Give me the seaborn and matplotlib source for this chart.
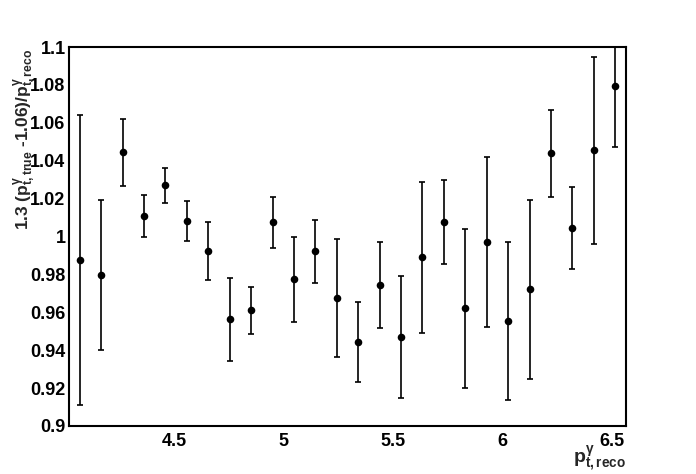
import numpy as np
import matplotlib
matplotlib.use("Agg")
import matplotlib.pyplot as plt
import seaborn as sns
import pandas as pd
from matplotlib.ticker import MultipleLocator

# ======================
# Data
# ======================

pt_reco = [4.066, 4.164, 4.262, 4.360, 4.458, 4.556, 4.654, 4.752, 4.850, 4.948,
           5.046, 5.144, 5.242, 5.340, 5.438, 5.536, 5.634, 5.732, 5.830, 5.928,
           6.026, 6.124, 6.222, 6.320, 6.418, 6.516]

ratio = [0.9874, 0.9797, 1.0444, 1.0108, 1.0270, 1.0082, 0.9922, 0.9563, 0.9610, 1.0075,
         0.9774, 0.9922, 0.9674, 0.9442, 0.9742, 0.9468, 0.9890, 1.0075, 0.9621, 0.9969,
         0.9553, 0.9721, 1.0439, 1.0043, 1.0455, 1.0793]

ratio_err = [0.0765, 0.0395, 0.0177, 0.0113, 0.0094, 0.0108, 0.0153, 0.0218, 0.0122, 0.0134,
             0.0224, 0.0167, 0.0312, 0.0211, 0.0227, 0.0322, 0.0399, 0.0221, 0.0418, 0.0449,
             0.0417, 0.0474, 0.0229, 0.0217, 0.0494, 0.0323]

y_ticks = [0.9, 0.92, 0.94, 0.96, 0.98, 1.0, 1.02, 1.04, 1.06, 1.08, 1.1]
y_tick_labels = ["0.9", "0.92", "0.94", "0.96", "0.98", "1",
                 "1.02", "1.04", "1.06", "1.08", "1.1"]
x_ticks = [4.5, 5.0, 5.5, 6.0, 6.5]
x_tick_labels = ["4.5", "5", "5.5", "6", "6.5"]

df = pd.DataFrame({"pt": pt_reco, "ratio": ratio, "err": ratio_err})

# ======================
# Style
# ======================

sns.set_style("white")
plt.rcParams["font.family"] = ["Liberation Sans", "DejaVu Sans"]
plt.rcParams["font.weight"] = "bold"
plt.rcParams["mathtext.fontset"] = "custom"
plt.rcParams["mathtext.rm"] = "Liberation Sans:bold"
plt.rcParams["mathtext.it"] = "Liberation Sans:bold"
plt.rcParams["mathtext.bf"] = "Liberation Sans:bold"
plt.rcParams["mathtext.default"] = "rm"

fig = plt.figure(figsize=(6.96, 4.74), dpi=100)
ax = fig.add_axes([0.0991, 0.1013, 0.8010, 0.7995])

# ======================
# Plot
# ======================

ax.errorbar(df["pt"], df["ratio"], yerr=df["err"], fmt="none",
            ecolor="black", elinewidth=1.2, capsize=2.2, capthick=1.2, zorder=2)
sns.scatterplot(data=df, x="pt", y="ratio", ax=ax, color="black", s=30,
                marker="o", edgecolor="black", linewidth=0, zorder=3, legend=False)

ax.set_xlim(4.017, 6.567)
ax.set_ylim(0.9, 1.1)

ax.xaxis.set_minor_locator(MultipleLocator(0.1))
ax.yaxis.set_minor_locator(MultipleLocator(0.005))
ax.set_xticks(x_ticks)
ax.set_xticklabels(x_tick_labels)
ax.set_yticks(y_ticks)
ax.set_yticklabels(y_tick_labels)

ax.tick_params(axis="both", which="both", direction="in", top=False, right=False,
               labelsize=13, width=1.1, colors="black")
ax.tick_params(axis="x", which="major", length=8, pad=5)
ax.tick_params(axis="x", which="minor", length=4.3)
ax.tick_params(axis="y", which="major", length=12.2, pad=2.5)
ax.tick_params(axis="y", which="minor", length=6.3)
for lab in ax.get_xticklabels() + ax.get_yticklabels():
    lab.set_fontweight("bold")

for sp in ax.spines.values():
    sp.set_visible(True)
    sp.set_color("black")
    sp.set_linewidth(1.5)

ax.set_xlabel("")
ax.set_ylabel("")

fig.text(0.9001, 0.0, r"p$^{\gamma}_{t,reco}$", ha="right", va="bottom",
         fontsize=14, fontweight="bold")
fig.text(0.036, 0.897, r"1.3 (p$^{\gamma}_{t,true}$ -1.06)/p$^{\gamma}_{t,reco}$",
         rotation=90, ha="center", va="top", fontsize=12.5, fontweight="bold")

plt.savefig("out.png", dpi=100)
